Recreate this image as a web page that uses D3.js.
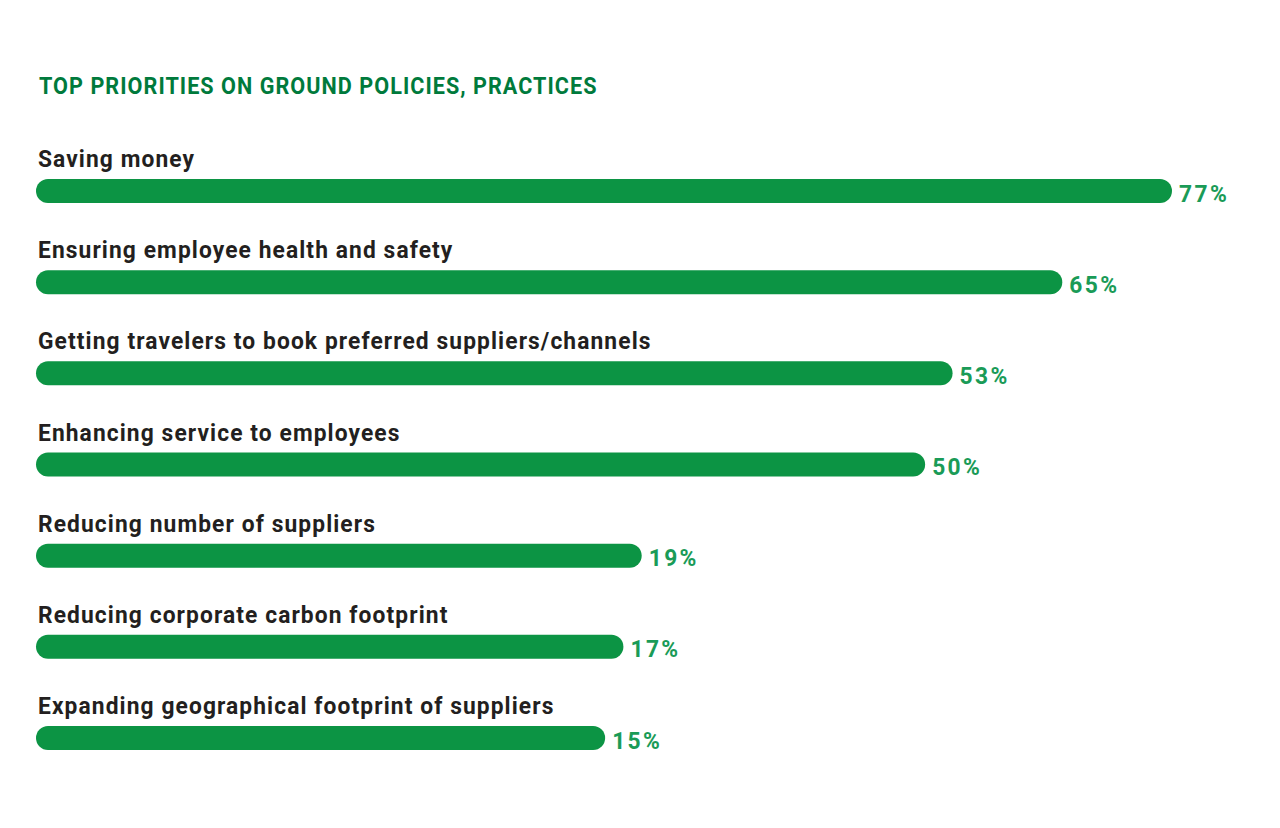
<!DOCTYPE html>
<meta charset="utf-8">
<script src="https://d3js.org/d3.v7.min.js"></script>
<style>
  body { margin: 0; background: #fff; }
  text { font-family: Roboto, "Noto Sans", sans-serif; font-weight: 700; }
</style>
<body>
<div id="chart"></div>
<script>

// data
const categories = [
  "Saving money",
  "Ensuring employee health and safety",
  "Getting travelers to book preferred suppliers/channels",
  "Enhancing service to employees",
  "Reducing number of suppliers",
  "Reducing corporate carbon footprint",
  "Expanding geographical footprint of suppliers"
];
const values = [77, 65, 53, 50, 19, 17, 15];
const title = "TOP PRIORITIES ON GROUND POLICIES, PRACTICES";

const width = 1280, height = 828;
const barLeft = 36, barH = 24;

const svg = d3.select("#chart").append("svg")
    .attr("width", width)
    .attr("height", height);

// the bars in the original do not start from zero at the left edge
const x = d3.scaleLinear()
    .domain([0, 77])
    .range([468, 1172]);

const y = d3.scalePoint()
    .domain(categories)
    .range([191, 738]);

svg.append("text")
    .attr("transform", "translate(39,94) scale(0.9,1)")
    .attr("fill", "#007a3c")
    .style("font-size", "24px")
    .style("letter-spacing", "1.15px")
    .text(title);

const row = svg.selectAll("g.row")
  .data(categories)
  .join("g")
    .attr("class", "row");

row.append("rect")
    .attr("x", barLeft)
    .attr("y", d => y(d) - barH / 2)
    .attr("width", (d, i) => x(values[i]) - barLeft)
    .attr("height", barH)
    .attr("rx", barH / 2)
    .attr("fill", "#0c9444");

row.append("text")
    .attr("transform", d => `translate(38,${y(d) - 24}) scale(0.95,1)`)
    .attr("fill", "#231f20")
    .style("font-size", "24px")
    .style("letter-spacing", "1.15px")
    .text(d => d);

row.append("text")
    .attr("transform", (d, i) => `translate(${x(values[i]) + 7},${y(d) + 10.5}) scale(0.95,1)`)
    .attr("fill", "#1a9b57")
    .style("font-size", "24px")
    .style("letter-spacing", "2.5px")
    .text((d, i) => values[i] + "%");

</script>
</body>
